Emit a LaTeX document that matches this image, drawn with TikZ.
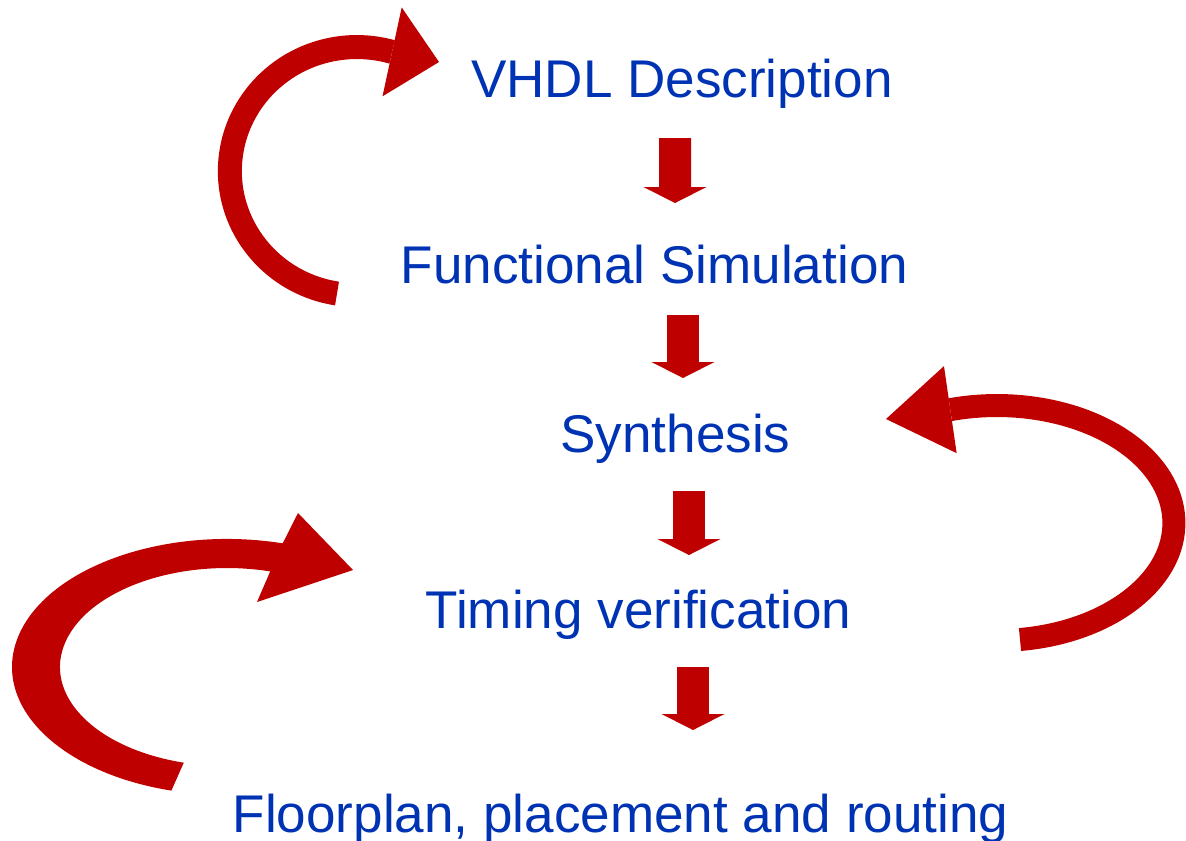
\documentclass[tikz,border=0pt]{standalone}
\usepackage{fontspec}
\setmainfont{Liberation Sans}
\usetikzlibrary{arrows.meta}
\definecolor{flowred}{RGB}{191,0,0}
\definecolor{flowblue}{RGB}{0,51,179}
\tikzset{
  stage/.style={text=flowblue, inner sep=0pt, anchor=base,
    font=\fontsize{30.2}{36}\selectfont},
  downarr/.style={flowred, line width=0.64cm,
    -{Triangle[length=0.32cm,width=1.26cm,line width=0pt]}},
  loopy/.style={flowred, line width=#1},
}
\begin{document}
\begin{tikzpicture}[x=0.02cm,y=-0.02cm]
  \useasboundingbox (0,0) rectangle (1186,840);

  \node[stage] (vhdl)   at (682,97)    {VHDL Description};
  \node[stage] (func)   at (654.5,283) {Functional Simulation};
  \node[stage] (synth)  at (675.5,452) {Synthesis};
  \node[stage] (timing) at (638.5,628) {Timing verification};
  \node[stage] (floor)  at (620.5,832) {Floorplan, placement and routing};

  \draw[downarr] ([shift={(-7,41)}]vhdl.base) -- ([shift={(20.5,-80)}]func.base);
  \draw[downarr] ([shift={(28.5,32)}]func.base) -- ([shift={(7.5,-74)}]synth.base);
  \draw[downarr] ([shift={(13.5,39)}]synth.base) -- ([shift={(50.5,-73)}]timing.base);
  \draw[downarr] ([shift={(54.5,39)}]timing.base) -- ([shift={(72.5,-102)}]floor.base);

  % back to the description
  \draw[loopy=0.48cm, -{Triangle[length=0.96cm,width=1.82cm,line width=0pt]}]
    ([shift={(-317.5,10.5)}]func.base)
    arc[start angle=99,end angle=286,x radius=127,y radius=124]
    -- ([shift={(-243,-35)}]vhdl.base);
  % back to synthesis
  \draw[loopy=0.46cm, -{Triangle[length=1.3cm,width=1.76cm,line width=0pt]}]
    ([shift={(381.5,11.5)}]timing.base)
    arc[start angle=82.5,end angle=-105,x radius=177,y radius=117.5]
    -- ([shift={(210.5,-33)}]synth.base);
  % back to timing
  \fill[flowred] (171.4,790.6)
    arc[start angle=105,end angle=285,x radius=215,y radius=128]
    -- (298,513) -- (353,570) -- (257,602) -- (270.2,571.4)
    arc[start angle=285,end angle=105,x radius=167,y radius=99] -- cycle;
\end{tikzpicture}
\end{document}
